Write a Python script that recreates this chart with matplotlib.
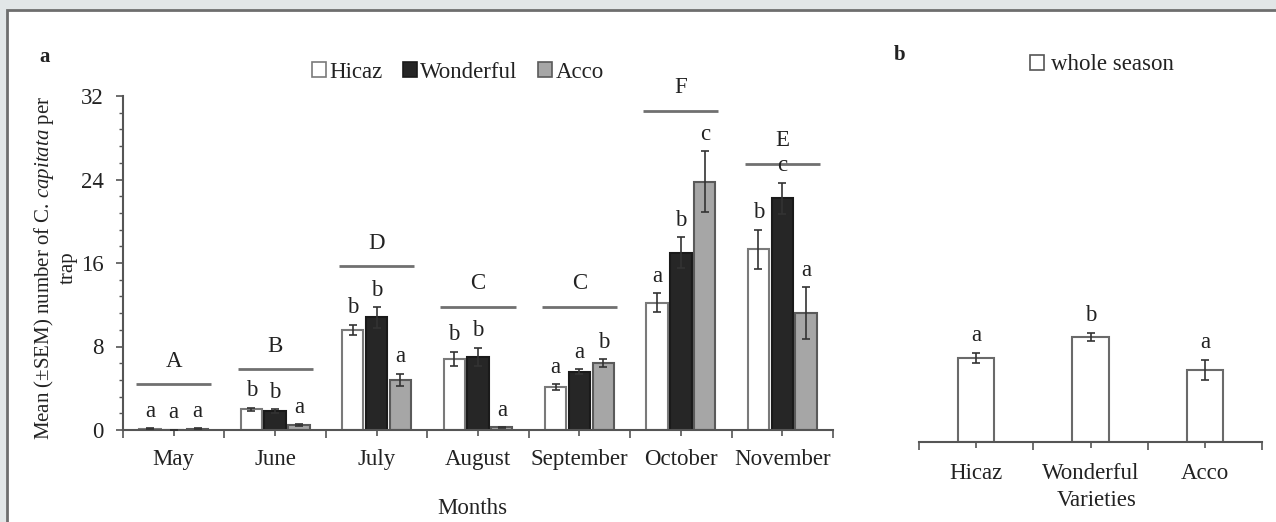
import numpy as np
import matplotlib
matplotlib.use("Agg")
import matplotlib.pyplot as plt
from matplotlib.patches import Patch, Rectangle

plt.rcParams["font.family"] = ["Liberation Serif", "DejaVu Serif"]
plt.rcParams["mathtext.fontset"] = "custom"
plt.rcParams["mathtext.rm"] = "Liberation Serif"
plt.rcParams["mathtext.it"] = "Liberation Serif:italic"

# Data
months = ["May", "June", "July", "August", "September", "October", "November"]
varieties = ["Hicaz", "Wonderful", "Acco"]

hicaz = [0.1, 2.0, 9.6, 6.8, 4.1, 12.2, 17.3]
hicaz_err = [0.05, 0.15, 0.5, 0.7, 0.3, 0.9, 1.9]
wonderful = [0.02, 1.8, 10.8, 7.0, 5.6, 17.0, 22.2]
wonderful_err = [0.02, 0.2, 1.0, 0.9, 0.2, 1.5, 1.5]
acco = [0.1, 0.45, 4.8, 0.25, 6.4, 23.8, 11.2]
acco_err = [0.05, 0.1, 0.6, 0.05, 0.4, 2.9, 2.5]

hicaz_letters = ["a", "b", "b", "b", "a", "a", "b"]
wonderful_letters = ["a", "b", "b", "b", "a", "b", "c"]
acco_letters = ["a", "a", "a", "a", "b", "c", "a"]

month_groups = ["A", "B", "D", "C", "C", "F", "E"]
month_group_level = [4.4, 5.8, 15.7, 11.8, 11.8, 30.6, 25.5]

season = [7.4, 9.2, 6.3]
season_err = [0.45, 0.35, 0.9]
season_letters = ["a", "b", "a"]

W, H = 1276, 522
fig = plt.figure(figsize=(W / 100, H / 100), dpi=100, facecolor="#e2e6e7")

# white panel with a border on top/left
fig.patches.append(Rectangle((7 / W, -0.1), 1.2, (H - 10) / H + 0.1,
                             transform=fig.transFigure, facecolor="white",
                             edgecolor="#6e6e6e", linewidth=2, zorder=-5))

text_col = "#222222"
fs = 16.5
colors = {"Hicaz": ("white", "#7a7a7a"),
          "Wonderful": ("#262626", "#1a1a1a"),
          "Acco": ("#a6a6a6", "#5a5a5a")}

# ---------------- panel a ----------------
ax = fig.add_axes([123 / W, (H - 430) / H, 710 / W, 334 / H])
ax.set_facecolor("none")
x = np.arange(len(months))
width = 0.21
offsets = [-0.235, 0, 0.235]
series = [(hicaz, hicaz_err, hicaz_letters),
          (wonderful, wonderful_err, wonderful_letters),
          (acco, acco_err, acco_letters)]

for name, off, (vals, errs, lets) in zip(varieties, offsets, series):
    face, edge = colors[name]
    ax.bar(x + off, vals, width, color=face, edgecolor=edge, linewidth=1.5, zorder=2)
    ax.errorbar(x + off, vals, yerr=errs, fmt="none", ecolor="#333333",
                elinewidth=1.2, capsize=3, capthick=1.2, zorder=3)
    for xi, v, e, l in zip(x + off, vals, errs, lets):
        ax.text(xi, v + e + 0.6, l, ha="center", va="bottom", fontsize=fs,
                color=text_col)

for xi, lvl, g in zip(x, month_group_level, month_groups):
    ax.plot([xi - 0.37, xi + 0.37], [lvl, lvl], color="#707070", lw=2,
            solid_capstyle="butt", clip_on=False)
    ax.text(xi, lvl + 1.2, g, ha="center", va="bottom", fontsize=fs,
            color=text_col)

ax.set_xlim(-0.5, len(months) - 0.5)
ax.set_ylim(0, 32)
ax.set_yticks([0, 8, 16, 24, 32])
ax.set_yticks(np.arange(0, 32.1, 1.6), minor=True)
ax.set_xticks(x)
ax.set_xticklabels(months)
ax.set_xticks(np.arange(-0.5, len(months), 1), minor=True)
for s in ["top", "right"]:
    ax.spines[s].set_visible(False)
for s in ["left", "bottom"]:
    ax.spines[s].set_color("#555555")
    ax.spines[s].set_linewidth(1.5)
ax.tick_params(axis="both", which="major", direction="out", length=5,
               width=1.2, color="#555555", labelsize=fs, labelcolor=text_col)
ax.tick_params(axis="y", which="minor", direction="out", length=3,
               width=1.0, color="#555555")
ax.tick_params(axis="x", which="minor", direction="out", length=6,
               width=1.2, color="#555555")
ax.tick_params(axis="x", which="major", length=4, pad=10)
ax.tick_params(axis="y", which="major", pad=9)

fig.text(55 / W, 1 - 268 / H, "Mean (±SEM) number of C. $capitata$ per\ntrap",
         rotation=90, ha="center", va="center", multialignment="center",
         fontsize=15, color=text_col, linespacing=1.25)
fig.text(472 / W, 1 - 508 / H, "Months", ha="center", va="center",
         fontsize=fs, color=text_col)
fig.text(45 / W, 1 - 57 / H, "a", ha="center", va="center", fontsize=15,
         fontweight="bold", color=text_col)

handles = [Patch(facecolor=colors[n][0], edgecolor=colors[n][1], linewidth=1.2)
           for n in varieties]
fig.legend(handles, varieties, loc="center", bbox_to_anchor=(458 / W, 1 - 72 / H),
           ncol=3, frameon=False, fontsize=fs, handlelength=0.6, handleheight=0.6,
           handletextpad=0.15, columnspacing=0.9, labelcolor=text_col)

# ---------------- panel b ----------------
bx = fig.add_axes([919 / W, (H - 442) / H, 343 / W, 346 / H])
bx.set_facecolor("none")
xb = np.arange(len(varieties))
bx.bar(xb, season, 0.32, color="white", edgecolor="#6a6a6a", linewidth=1.5, zorder=2)
bx.errorbar(xb, season, yerr=season_err, fmt="none", ecolor="#333333",
            elinewidth=1.2, capsize=3, capthick=1.2, zorder=3)
for xi, v, e, l in zip(xb, season, season_err, season_letters):
    bx.text(xi, v + e + 0.6, l, ha="center", va="bottom", fontsize=fs,
            color=text_col)
bx.set_xlim(-0.5, len(varieties) - 0.5)
bx.set_ylim(0, 30.35)
bx.set_yticks([])
bx.set_xticks(xb)
bx.set_xticklabels(varieties)
bx.set_xticks(np.arange(-0.5, len(varieties), 1), minor=True)
for s in ["top", "right", "left"]:
    bx.spines[s].set_visible(False)
bx.spines["bottom"].set_color("#555555")
bx.spines["bottom"].set_linewidth(1.5)
bx.tick_params(axis="x", which="major", direction="out", length=4, width=1.2,
               color="#555555", labelsize=fs, labelcolor=text_col, pad=11)
bx.tick_params(axis="x", which="minor", direction="out", length=6, width=1.2,
               color="#555555")

fig.text(1097 / W, 1 - 501 / H, "Varieties", ha="center", va="center",
         fontsize=fs, color=text_col)
fig.text(900 / W, 1 - 55 / H, "b", ha="center", va="center", fontsize=15,
         fontweight="bold", color=text_col)
fig.legend([Patch(facecolor="white", edgecolor="#555555", linewidth=1.2)],
           ["whole season"], loc="center", bbox_to_anchor=(1102 / W, 1 - 65 / H),
           frameon=False, fontsize=fs, handlelength=0.6, handleheight=0.6,
           handletextpad=0.3, labelcolor=text_col)

fig.savefig("out.png", dpi=100, facecolor=fig.get_facecolor())
